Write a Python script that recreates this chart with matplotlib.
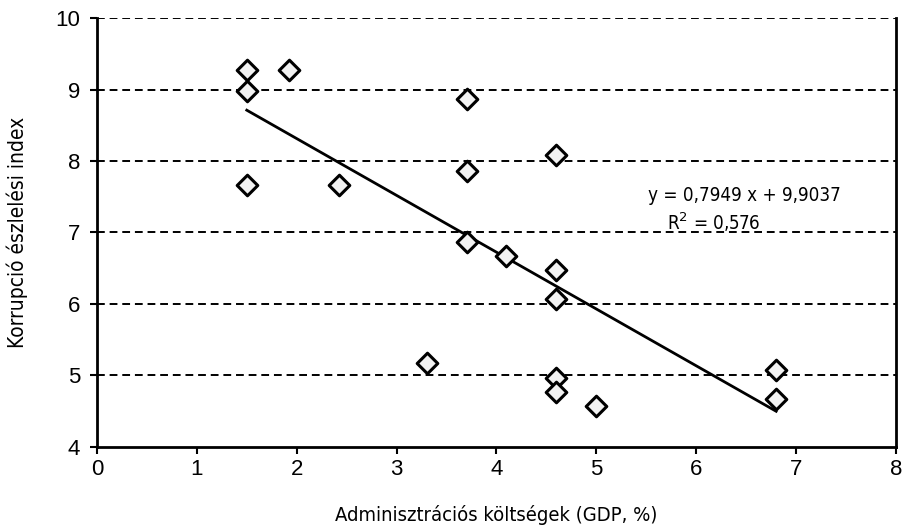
import matplotlib.pyplot as plt
import numpy as np

# admin costs (% of GDP) vs corruption perception index
admin_cost = [1.5, 1.5, 1.92, 1.5, 2.42, 3.7, 3.7, 3.7, 4.1, 4.6, 4.6, 4.6, 4.6, 4.6, 3.3, 5.0, 6.8, 6.8]
cpi = [9.28, 8.98, 9.27, 7.67, 7.67, 8.87, 7.86, 6.87, 6.67, 8.08, 6.47, 6.07, 4.97, 4.77, 5.17, 4.57, 5.07, 4.67]
slope, intercept = -0.7949, 9.9037
r2 = 0.576

plt.rcParams['font.family'] = ['Liberation Sans', 'DejaVu Sans']
narrow = dict(family=['DejaVu Sans'], stretch='condensed')

fig = plt.figure(figsize=(9.06, 5.32), dpi=100)
ax = fig.add_axes([0.107, 0.160, 0.882, 0.806])

for y in range(5, 11):
    ax.axhline(y, color='black', lw=1.4, ls=(0, (4, 2.5)), zorder=1)

xfit = np.array([min(admin_cost), max(admin_cost)])
ax.plot(xfit, slope * xfit + intercept, color='black', lw=2, zorder=2)

ax.scatter(admin_cost, cpi, marker='D', s=110, facecolor='#f2f2f2',
           edgecolor='black', linewidths=2.2, zorder=3)

ax.text(6.48, 7.52, "y = 0,7949 x + 9,9037", ha='center', va='center', fontsize=13.5, **narrow)
ax.text(6.17, 7.14, "R$^2$ = 0,576", ha='center', va='center', fontsize=13.5, **narrow)

ax.set_xlim(0, 8)
ax.set_ylim(4, 10)
ax.set_xticks(range(0, 9))
ax.set_yticks(range(4, 11))
ax.tick_params(labelsize=16, length=5, width=1.5, direction='out', colors='black')
ax.tick_params(axis='y', pad=7)
ax.spines['top'].set_visible(False)
for s in ['left', 'right', 'bottom']:
    ax.spines[s].set_linewidth(2)

ax.set_xlabel("Adminisztrációs költségek (GDP, %)", fontsize=14.5, labelpad=18, **narrow)
ax.set_ylabel("Korrupció észlelési index", fontsize=15, labelpad=20, **narrow)

fig.savefig("out.png", dpi=100)
